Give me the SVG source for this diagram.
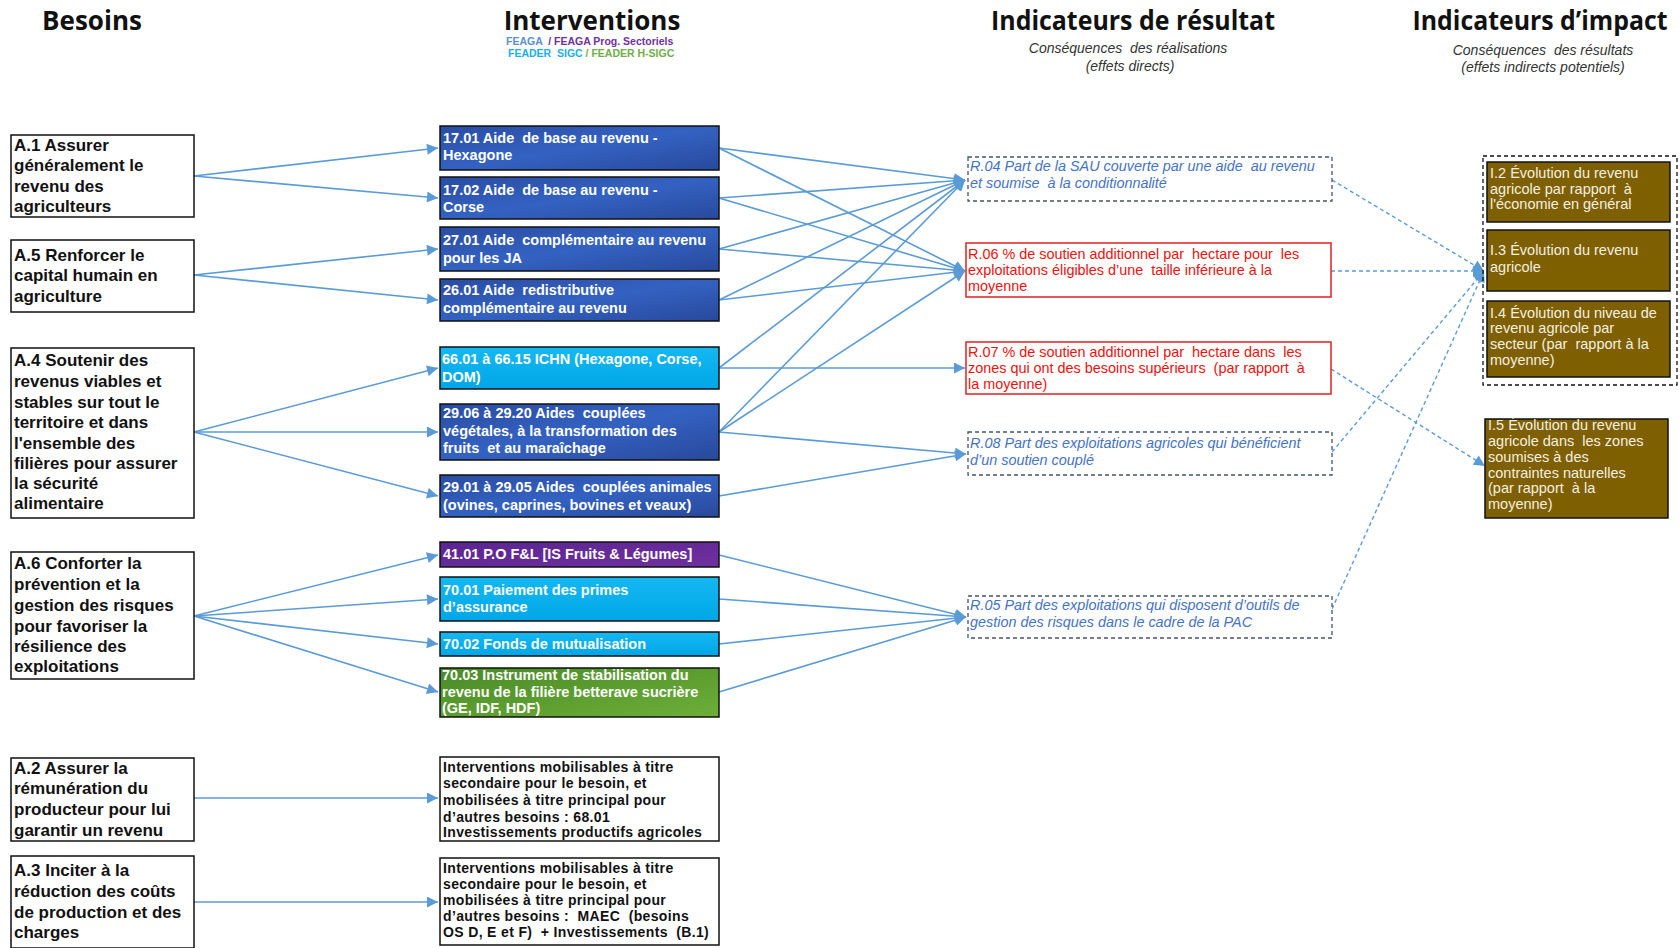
<svg xmlns="http://www.w3.org/2000/svg" width="1680" height="948" viewBox="0 0 1680 948">
  <defs>
    <style>
      text { white-space: pre; }
      .title { font-family: "Open Sans", "Liberation Sans", sans-serif; font-weight: 700; font-size: 26px; fill: #111; text-anchor: middle; }
      .sub { font-family: "Liberation Sans", Arial, sans-serif; font-style: italic; font-size: 14px; fill: #333; text-anchor: middle; }
      .legend { font-family: "Liberation Sans", Arial, sans-serif; font-weight: 700; font-size: 10.5px; }
      .need rect { fill: #fff; stroke: #111; stroke-width: 1.5; }
      .need text { font-family: "Liberation Sans", Arial, sans-serif; font-weight: 700; font-size: 17px; fill: #111; }
      .iv rect { stroke: #111; stroke-width: 1.5; }
      .iv text { font-family: "Liberation Sans", Arial, sans-serif; font-weight: 700; font-size: 14.5px; fill: #fff; }
      .ivx rect { fill: #fff; stroke: #111; stroke-width: 1.5; }
      .ivx text { font-family: "Liberation Sans", Arial, sans-serif; font-weight: 700; font-size: 14px; letter-spacing: 0.35px; fill: #111; }
      .res-d rect { fill: #fff; stroke: #44546A; stroke-width: 1.3; stroke-dasharray: 4 3; }
      .res-d text { font-family: "Liberation Sans", Arial, sans-serif; font-style: italic; font-size: 14.4px; fill: #4472C4; }
      .res-r rect { fill: #fff; stroke: #E02020; stroke-width: 1.5; }
      .res-r text { font-family: "Liberation Sans", Arial, sans-serif; font-size: 14.4px; fill: #F01010; }
      .imp rect { fill: #7F6000; stroke: #111; stroke-width: 1.5; }
      .imp text { font-family: "Liberation Sans", Arial, sans-serif; font-size: 14.5px; fill: #F4EFE0; }
      .link { fill: none; stroke: #5B9BD5; stroke-width: 1.6; marker-end: url(#arr); }
      .dlink { fill: none; stroke: #5B9BD5; stroke-width: 1.4; stroke-dasharray: 4 3; marker-end: url(#arr); }
    </style>
    <marker id="arr" viewBox="0 0 10 10" refX="10" refY="5" markerUnits="userSpaceOnUse" markerWidth="12" markerHeight="11" orient="auto">
      <path d="M0,0 L10,5 L0,10 z" fill="#5B9BD5"/>
    </marker>
    <linearGradient id="gBlue" x1="0" y1="0" x2="1" y2="1">
      <stop offset="0" stop-color="#2A4CA2"/>
      <stop offset="0.5" stop-color="#3462C2"/>
      <stop offset="1" stop-color="#28499C"/>
    </linearGradient>
    <linearGradient id="gCyan" x1="0" y1="0" x2="0" y2="1">
      <stop offset="0" stop-color="#14B8F2"/>
      <stop offset="1" stop-color="#00A6E6"/>
    </linearGradient>
    <linearGradient id="gPurple" x1="0" y1="0" x2="1" y2="1">
      <stop offset="0" stop-color="#5A2590"/>
      <stop offset="1" stop-color="#7030A0"/>
    </linearGradient>
    <linearGradient id="gGreen" x1="0" y1="0" x2="1" y2="1">
      <stop offset="0" stop-color="#4A8A28"/>
      <stop offset="1" stop-color="#6DAF38"/>
    </linearGradient>
  </defs>

  <rect width="1680" height="948" fill="#fff"/>

  <!-- Column headings -->
  <g id="headings">
    <text class="title" x="92" y="30">Besoins</text>
    <text class="title" x="592" y="30">Interventions</text>
    <text class="legend" x="506" y="45"><tspan fill="#5B8FD0">FEAGA  </tspan><tspan fill="#7030A0">/ FEAGA Prog. Sectoriels</tspan></text>
    <text class="legend" x="508" y="56.5"><tspan fill="#1AAFE8">FEADER  SIGC </tspan><tspan fill="#70AD47">/ FEADER H-SIGC</tspan></text>
    <text class="title" x="1133" y="30" textLength="284" lengthAdjust="spacingAndGlyphs">Indicateurs de résultat</text>
    <text class="sub" x="1128" y="53">Conséquences  des réalisations</text>
    <text class="sub" x="1130" y="71">(effets directs)</text>
    <text class="title" x="1540" y="30" textLength="255" lengthAdjust="spacingAndGlyphs">Indicateurs d’impact</text>
    <text class="sub" x="1543" y="55">Conséquences  des résultats</text>
    <text class="sub" x="1543" y="72">(effets indirects potentiels)</text>
  </g>

  <!-- Connectors -->
  <g id="connectors">
    <!-- needs to interventions -->
    <path class="link" d="M194,176 L438,148"/>
    <path class="link" d="M194,176 L438,198"/>
    <path class="link" d="M194,275 L438,249"/>
    <path class="link" d="M194,275 L438,300"/>
    <path class="link" d="M194,432 L438,368"/>
    <path class="link" d="M194,432 L438,432"/>
    <path class="link" d="M194,432 L438,496"/>
    <path class="link" d="M194,616 L438,555"/>
    <path class="link" d="M194,616 L438,599"/>
    <path class="link" d="M194,616 L438,644"/>
    <path class="link" d="M194,616 L438,692"/>
    <path class="link" d="M194,798 L438,798"/>
    <path class="link" d="M194,902 L438,902"/>
    <!-- interventions to result indicators -->
    <path class="link" d="M719,148 L965,180"/>
    <path class="link" d="M719,148 L965,271"/>
    <path class="link" d="M719,198 L965,180"/>
    <path class="link" d="M719,198 L965,271"/>
    <path class="link" d="M719,249 L965,180"/>
    <path class="link" d="M719,249 L965,271"/>
    <path class="link" d="M719,300 L965,180"/>
    <path class="link" d="M719,300 L965,271"/>
    <path class="link" d="M719,368 L965,180"/>
    <path class="link" d="M719,368 L965,368"/>
    <path class="link" d="M719,432 L965,180"/>
    <path class="link" d="M719,432 L965,271"/>
    <path class="link" d="M719,432 L966,454"/>
    <path class="link" d="M719,496 L966,454"/>
    <path class="link" d="M719,555 L966,617"/>
    <path class="link" d="M719,599 L966,617"/>
    <path class="link" d="M719,644 L966,617"/>
    <path class="link" d="M719,692 L966,617"/>
    <!-- result indicators to impact indicators -->
    <path class="dlink" d="M1332,180 L1484,271"/>
    <path class="dlink" d="M1331,271 L1484,271"/>
    <path class="dlink" d="M1332,452 L1484,271"/>
    <path class="dlink" d="M1332,609 L1484,271"/>
    <path class="dlink" d="M1331,369 L1485,466"/>
  </g>

  <!-- Needs -->
  <g id="need-a1" class="need">
    <rect x="11" y="135" width="183" height="82"/>
    <text x="14" y="151">A.1 Assurer</text>
    <text x="14" y="171">généralement le</text>
    <text x="14" y="192">revenu des</text>
    <text x="14" y="212">agriculteurs</text>
  </g>
  <g id="need-a5" class="need">
    <rect x="11" y="240" width="183" height="72"/>
    <text x="14" y="261">A.5 Renforcer le</text>
    <text x="14" y="281">capital humain en</text>
    <text x="14" y="302">agriculture</text>
  </g>
  <g id="need-a4" class="need">
    <rect x="11" y="348" width="183" height="170"/>
    <text x="14" y="366">A.4 Soutenir des</text>
    <text x="14" y="387">revenus viables et</text>
    <text x="14" y="408">stables sur tout le</text>
    <text x="14" y="428">territoire et dans</text>
    <text x="14" y="449">l'ensemble des</text>
    <text x="14" y="469">filières pour assurer</text>
    <text x="14" y="489">la sécurité</text>
    <text x="14" y="509">alimentaire</text>
  </g>
  <g id="need-a6" class="need">
    <rect x="11" y="552" width="183" height="127"/>
    <text x="14" y="569">A.6 Conforter la</text>
    <text x="14" y="590">prévention et la</text>
    <text x="14" y="611">gestion des risques</text>
    <text x="14" y="632">pour favoriser la</text>
    <text x="14" y="652">résilience des</text>
    <text x="14" y="672">exploitations</text>
  </g>
  <g id="need-a2" class="need">
    <rect x="11" y="758" width="183" height="83"/>
    <text x="14" y="774">A.2 Assurer la</text>
    <text x="14" y="794">rémunération du</text>
    <text x="14" y="815">producteur pour lui</text>
    <text x="14" y="836">garantir un revenu</text>
  </g>
  <g id="need-a3" class="need">
    <rect x="11" y="856" width="183" height="92"/>
    <text x="14" y="876">A.3 Inciter à la</text>
    <text x="14" y="897">réduction des coûts</text>
    <text x="14" y="918">de production et des</text>
    <text x="14" y="938">charges</text>
  </g>

  <!-- Interventions -->
  <g id="iv-1701" class="iv">
    <rect x="440" y="126" width="279" height="44" fill="url(#gBlue)"/>
    <text x="443" y="143">17.01 Aide  de base au revenu -</text>
    <text x="443" y="160">Hexagone</text>
  </g>
  <g id="iv-1702" class="iv">
    <rect x="440" y="177" width="279" height="42" fill="url(#gBlue)"/>
    <text x="443" y="195">17.02 Aide  de base au revenu -</text>
    <text x="443" y="212">Corse</text>
  </g>
  <g id="iv-2701" class="iv">
    <rect x="440" y="227" width="279" height="44" fill="url(#gBlue)"/>
    <text x="443" y="245">27.01 Aide  complémentaire au revenu</text>
    <text x="443" y="263">pour les JA</text>
  </g>
  <g id="iv-2601" class="iv">
    <rect x="440" y="279" width="279" height="42" fill="url(#gBlue)"/>
    <text x="443" y="295">26.01 Aide  redistributive</text>
    <text x="443" y="313">complémentaire au revenu</text>
  </g>
  <g id="iv-ichn" class="iv">
    <rect x="440" y="347" width="279" height="42" fill="url(#gCyan)"/>
    <text x="442" y="364">66.01 à 66.15 ICHN (Hexagone, Corse,</text>
    <text x="442" y="382">DOM)</text>
  </g>
  <g id="iv-2906" class="iv">
    <rect x="440" y="404" width="279" height="56" fill="url(#gBlue)"/>
    <text x="443" y="418">29.06 à 29.20 Aides  couplées</text>
    <text x="443" y="436">végétales, à la transformation des</text>
    <text x="443" y="453">fruits  et au maraîchage</text>
  </g>
  <g id="iv-2901" class="iv">
    <rect x="440" y="475" width="279" height="42" fill="url(#gBlue)"/>
    <text x="443" y="492">29.01 à 29.05 Aides  couplées animales</text>
    <text x="443" y="510">(ovines, caprines, bovines et veaux)</text>
  </g>
  <g id="iv-4101" class="iv">
    <rect x="440" y="542" width="279" height="25" fill="url(#gPurple)"/>
    <text x="443" y="559">41.01 P.O F&amp;L [IS Fruits &amp; Légumes]</text>
  </g>
  <g id="iv-7001" class="iv">
    <rect x="440" y="577" width="279" height="44" fill="url(#gCyan)"/>
    <text x="443" y="595">70.01 Paiement des primes</text>
    <text x="443" y="612">d’assurance</text>
  </g>
  <g id="iv-7002" class="iv">
    <rect x="440" y="632" width="279" height="24" fill="url(#gCyan)"/>
    <text x="443" y="649">70.02 Fonds de mutualisation</text>
  </g>
  <g id="iv-7003" class="iv">
    <rect x="440" y="668" width="279" height="49" fill="url(#gGreen)"/>
    <text x="442" y="680">70.03 Instrument de stabilisation du</text>
    <text x="442" y="697">revenu de la filière betterave sucrière</text>
    <text x="442" y="713">(GE, IDF, HDF)</text>
  </g>
  <g id="iv-secondary-a2" class="ivx">
    <rect x="440" y="757" width="279" height="84"/>
    <text x="443" y="772">Interventions mobilisables à titre</text>
    <text x="443" y="788">secondaire pour le besoin, et</text>
    <text x="443" y="805">mobilisées à titre principal pour</text>
    <text x="443" y="822">d’autres besoins : 68.01</text>
    <text x="443" y="837">Investissements productifs agricoles</text>
  </g>
  <g id="iv-secondary-a3" class="ivx">
    <rect x="440" y="858" width="279" height="87"/>
    <text x="443" y="873">Interventions mobilisables à titre</text>
    <text x="443" y="889">secondaire pour le besoin, et</text>
    <text x="443" y="905">mobilisées à titre principal pour</text>
    <text x="443" y="921">d’autres besoins :  MAEC  (besoins</text>
    <text x="443" y="937">OS D, E et F)  + Investissements  (B.1)</text>
  </g>

  <!-- Result indicators -->
  <g id="res-r04" class="res-d">
    <rect x="968" y="157" width="364" height="44"/>
    <text x="970" y="171">R.04 Part de la SAU couverte par une aide  au revenu</text>
    <text x="970" y="188">et soumise  à la conditionnalité</text>
  </g>
  <g id="res-r06" class="res-r">
    <rect x="966" y="243" width="365" height="54"/>
    <text x="968" y="259">R.06 % de soutien additionnel par  hectare pour  les</text>
    <text x="968" y="275">exploitations éligibles d’une  taille inférieure à la</text>
    <text x="968" y="291">moyenne</text>
  </g>
  <g id="res-r07" class="res-r">
    <rect x="966" y="342" width="365" height="52"/>
    <text x="968" y="357">R.07 % de soutien additionnel par  hectare dans  les</text>
    <text x="968" y="373">zones qui ont des besoins supérieurs  (par rapport  à</text>
    <text x="968" y="389">la moyenne)</text>
  </g>
  <g id="res-r08" class="res-d">
    <rect x="968" y="432" width="364" height="43"/>
    <text x="970" y="448">R.08 Part des exploitations agricoles qui bénéficient</text>
    <text x="970" y="465">d’un soutien couplé</text>
  </g>
  <g id="res-r05" class="res-d">
    <rect x="968" y="596" width="364" height="42"/>
    <text x="970" y="610">R.05 Part des exploitations qui disposent d’outils de</text>
    <text x="970" y="627">gestion des risques dans le cadre de la PAC</text>
  </g>

  <!-- Impact indicators -->
  <g id="imp-group">
    <rect x="1483" y="156" width="194" height="229" fill="none" stroke="#111" stroke-width="1.3" stroke-dasharray="4 3"/>
  </g>
  <g id="imp-i2" class="imp">
    <rect x="1487" y="162" width="183" height="60"/>
    <text x="1490" y="178">I.2 Évolution du revenu</text>
    <text x="1490" y="194">agricole par rapport  à</text>
    <text x="1490" y="209">l'économie en général</text>
  </g>
  <g id="imp-i3" class="imp">
    <rect x="1487" y="230" width="183" height="61"/>
    <text x="1490" y="255">I.3 Évolution du revenu</text>
    <text x="1490" y="272">agricole</text>
  </g>
  <g id="imp-i4" class="imp">
    <rect x="1487" y="301" width="183" height="76"/>
    <text x="1490" y="318">I.4 Évolution du niveau de</text>
    <text x="1490" y="333">revenu agricole par</text>
    <text x="1490" y="349">secteur (par  rapport à la</text>
    <text x="1490" y="365">moyenne)</text>
  </g>
  <g id="imp-i5" class="imp">
    <rect x="1485" y="419" width="183" height="99"/>
    <text x="1488" y="430">I.5 Évolution du revenu</text>
    <text x="1488" y="446">agricole dans  les zones</text>
    <text x="1488" y="462">soumises à des</text>
    <text x="1488" y="478">contraintes naturelles</text>
    <text x="1488" y="493">(par rapport  à la</text>
    <text x="1488" y="509">moyenne)</text>
  </g>
</svg>
